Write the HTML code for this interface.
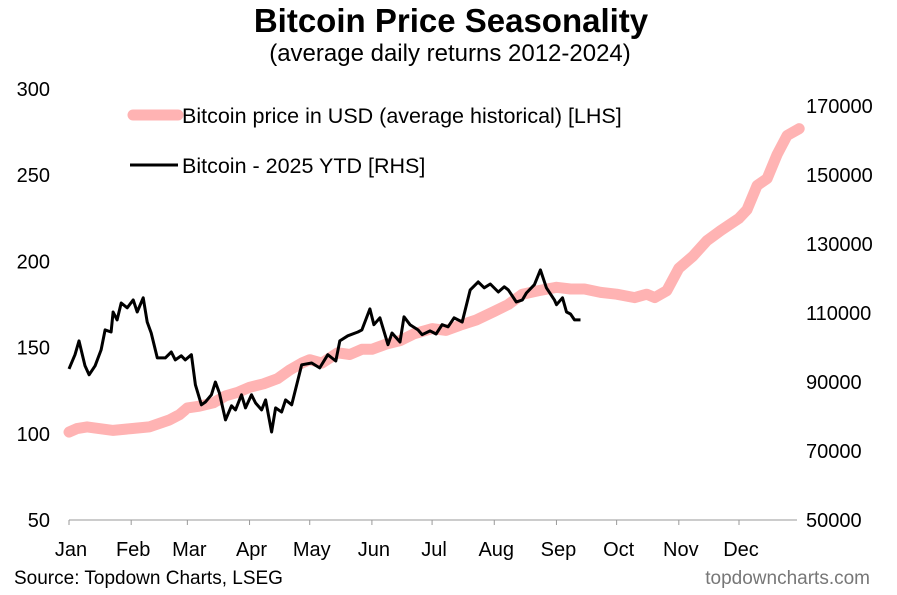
<!DOCTYPE html>
<html><head><meta charset="utf-8"><style>
body{margin:0;background:#fff;font-family:"Liberation Sans",sans-serif}
svg text{font-family:"Liberation Sans",sans-serif}
</style></head><body>
<svg id="c" width="897" height="590" xmlns="http://www.w3.org/2000/svg">
<text x="451" y="32" text-anchor="middle" font-size="33" font-weight="bold">Bitcoin Price Seasonality</text>
<text x="450" y="61" text-anchor="middle" font-size="24">(average daily returns 2012-2024)</text>
<g id="axes"></g>
<g id="series"></g>
<line x1="133" y1="115" x2="178" y2="115" stroke="#ffb3b3" stroke-width="11" stroke-linecap="round"/>
<text x="182" y="123" font-size="21.5">Bitcoin price in USD (average historical) [LHS]</text>
<line x1="130" y1="165" x2="178" y2="165" stroke="#000" stroke-width="3"/>
<text x="182" y="173" font-size="21.5">Bitcoin - 2025 YTD [RHS]</text>
<text x="14" y="584" font-size="19">Source: Topdown Charts, LSEG</text>
<text x="870" y="584" font-size="19" fill="#777" text-anchor="end">topdowncharts.com</text>
</svg>
<script>
const months=["Jan","Feb","Mar","Apr","May","Jun","Jul","Aug","Sep","Oct","Nov","Dec"];
const monthStartDays=[0,31,59,90,120,151,181,212,243,273,304,334];
const leftTicks=[50,100,150,200,250,300];
const rightTicks=[50000,70000,90000,110000,130000,150000,170000];
const avgDays=[0,4,9,15,22,31,40,50,55,59,65,72,78,84,90,97,104,110,116,120,126,134,140,146,151,158,165,172,181,188,195,203,212,219,226,234,243,250,257,265,273,282,288,292,298,304,311,318,325,334,338,343,348,353,358,364];
const avgValues=[101,103,104,103,102,103,104,108,111,115,116,118,122,124,127,129,132,137,141,143,141,147,146,149,149,152,154,158,161,160,163,166,171,175,181,183,185,184,184,182,181,179,181,179,183,196,203,212,218,225,230,244,248,262,273,277];
const ytdDays=[0,3,5,8,10,13,16,18,21,22,24,26,29,32,34,37,39,41,44,48,51,53,56,58,61,63,66,68,71,73,75,78,81,83,86,88,91,93,96,98,101,103,106,108,111,116,121,125,129,133,135,139,144,146,150,152,155,159,161,165,167,170,174,176,180,183,186,189,192,196,200,204,207,210,214,217,219,223,226,228,232,235,238,242,243,246,248,250,252,255];
const ytdValues=[93.8,97.9,101.9,94.7,92.1,94.7,99.3,105.1,104.5,110.3,108,112.9,111.5,113.8,110.3,114.4,107.4,104.2,97,97,98.7,96.4,97.6,96.4,97.9,89.2,83.4,84.2,86.3,90,86.8,79,83.1,81.9,86.3,82.5,86.3,83.9,81.9,84.8,75.5,82.5,81.3,84.8,83.4,95,95.5,94.1,97.9,96.1,101.9,103.4,104.5,105.1,111.2,106.6,108.6,100.8,104.2,101.6,108.9,106.6,105.1,103.7,104.8,103.9,106.6,106,108.6,107.4,116.7,119,117.3,118.4,116.1,117.6,116.7,113.2,113.8,115.8,118.2,122.5,117.3,113.8,112.4,114.4,110.3,109.7,108,108].map(v=>v*1000);
const X0=69,Y0=520,Y1=89;
const x=d=>X0+d*(670/334);
const yL=v=>Y0-(v-50)*(Y0-Y1)/250;
const yR=v=>Y0-(v-50000)*69/20000;
const NS="http://www.w3.org/2000/svg";
function mk(t,a,p){const e=document.createElementNS(NS,t);for(const k in a)e.setAttribute(k,a[k]);p.appendChild(e);return e;}
const ax=document.getElementById('axes'),se=document.getElementById('series');
const base=mk('line',{x1:X0,y1:Y0,x2:797,y2:Y0,stroke:'#999','stroke-width':1},ax);


monthStartDays.forEach((d,i)=>{
 const t=mk('line',{x1:x(d),y1:Y0,x2:x(d),y2:Y0+5,stroke:'#999'},ax);
 
 
 const l=mk('text',{x:x(d)+2,y:556,'text-anchor':'middle','font-size':20},ax);
 l.textContent=months[i];
 
 
});
leftTicks.forEach(v=>{
 const l=mk('text',{x:50,y:yL(v)+7,'text-anchor':'end','font-size':20},ax);
 l.textContent=v;
 
 
});
rightTicks.forEach(v=>{
 const l=mk('text',{x:806,y:yR(v)+7,'font-size':20},ax);
 l.textContent=v;
 
 
});
const p1=mk('path',{d:avgDays.map((d,i)=>(i?'L':'M')+x(d).toFixed(1)+','+yL(avgValues[i]).toFixed(1)).join(''),fill:'none',stroke:'#ffb3b3','stroke-width':11,'stroke-linejoin':'round','stroke-linecap':'round'},se);


const p2=mk('path',{d:ytdDays.map((d,i)=>(i?'L':'M')+x(d).toFixed(1)+','+yR(ytdValues[i]).toFixed(1)).join(''),fill:'none',stroke:'#000','stroke-width':3,'stroke-linejoin':'round'},se);


</script>
</body></html>
